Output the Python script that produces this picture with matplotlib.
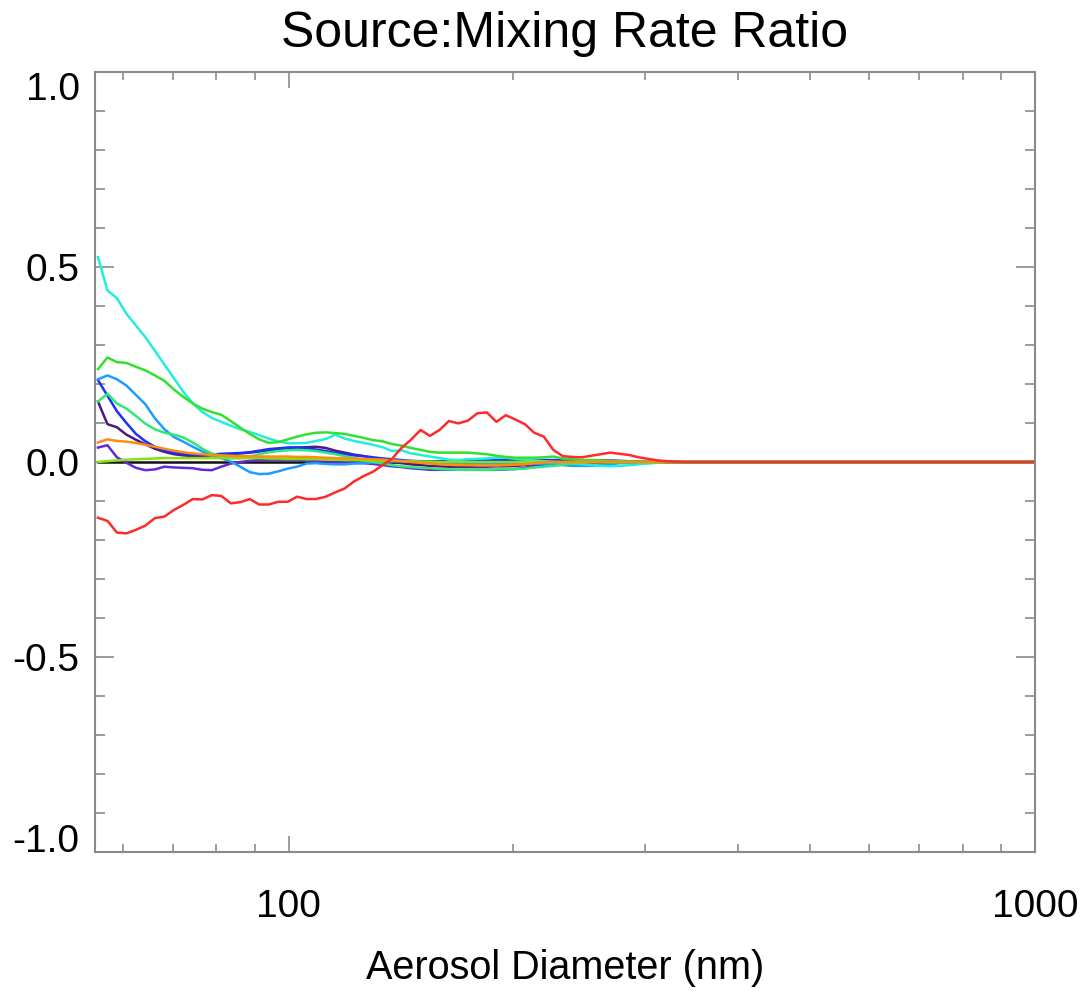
"""
Source: mixing rate ratio vs aerosol diameter
"""
import matplotlib
matplotlib.use("Agg")
import matplotlib.pyplot as plt
import matplotlib.ticker as ticker

plt.rcParams['font.family'] = ['Liberation Sans', 'DejaVu Sans']
plt.rcParams['axes.unicode_minus'] = False

# diameter bins (nm), last point closes the flat tail
diam = [55.50, 57.15, 58.85, 60.60, 62.40, 64.25, 66.16, 68.13, 70.15, 72.23,
        74.38, 76.59, 78.86, 81.21, 83.62, 86.10, 88.66, 91.29, 94.00, 96.80,
        99.67, 102.6, 105.7, 108.8, 112.1, 115.4, 118.8, 122.3, 126.0, 129.7,
        133.6, 137.5, 141.6, 145.8, 150.2, 154.6, 159.2, 163.9, 168.8, 173.8,
        179.0, 184.3, 189.8, 195.4, 201.2, 207.2, 213.3, 219.7, 226.2, 232.9,
        239.8, 247.0, 254.3, 261.9, 269.6, 277.6, 285.9, 294.4, 303.1, 312.1,
        321.4, 330.9, 340.8, 350.9, 1000.0]

black = [0.0, 0.0, 0.0, 0.0, 0.0, 0.0, 0.0, 0.0, 0.0, 0.0,
         0.0, 0.0, 0.0, 0.0, 0.0, 0.0, 0.0, 0.0, 0.0, 0.0,
         0.0, 0.0, 0.0, 0.0, 0.0, 0.0, 0.0, 0.0, 0.0, 0.0,
         0.0, 0.0, 0.0, 0.0, 0.0, 0.0, 0.0, 0.0, 0.0, 0.0,
         0.0, 0.0, 0.0, 0.0, 0.0, 0.0, 0.0, 0.0, 0.0, 0.0,
         0.0, 0.0, 0.0, 0.0, 0.0, 0.0, 0.0, 0.0, 0.0, 0.0,
         0.0, 0.0, 0.0, 0.0, 0.0]

indigo = [0.155, 0.097, 0.089, 0.07, 0.057, 0.045, 0.034, 0.026, 0.02, 0.017,
          0.015, 0.016, 0.017, 0.019, 0.02, 0.022, 0.024, 0.027, 0.03, 0.033,
          0.036, 0.037, 0.038, 0.039, 0.036, 0.029, 0.024, 0.019, 0.015, 0.01,
          0.004, 0.0, -0.003, -0.006, -0.008, -0.01, -0.011, -0.012, -0.012, -0.012,
          -0.012, -0.012, -0.011, -0.011, -0.01, -0.008, -0.005, -0.003, -0.001, 0.0,
          0.0, 0.0, 0.0, 0.0, 0.0, 0.0, 0.0, 0.0, 0.0, 0.0,
          0.0, 0.0, 0.0, 0.0, 0.0]

violet = [0.037, 0.043, 0.012, -0.002, -0.015, -0.021, -0.019, -0.012, -0.014, -0.015,
          -0.016, -0.02, -0.021, -0.012, -0.004, 0.0, 0.003, 0.005, 0.006, 0.006,
          0.006, 0.006, 0.005, 0.003, 0.002, 0.0, -0.001, -0.002, -0.003, -0.005,
          -0.008, -0.011, -0.013, -0.016, -0.018, -0.02, -0.02, -0.02, -0.02, -0.02,
          -0.02, -0.02, -0.02, -0.019, -0.018, -0.015, -0.01, -0.007, -0.004, -0.002,
          0.0, 0.0, 0.0, 0.0, 0.0, 0.0, 0.0, 0.0, 0.0, 0.0,
          0.0, 0.0, 0.0, 0.0, 0.0]

blue = [0.21, 0.17, 0.13, 0.1, 0.072, 0.053, 0.039, 0.029, 0.024, 0.021,
        0.019, 0.018, 0.019, 0.021, 0.022, 0.023, 0.025, 0.029, 0.033, 0.035,
        0.037, 0.037, 0.035, 0.032, 0.028, 0.023, 0.02, 0.017, 0.015, 0.012,
        0.009, 0.007, 0.005, 0.003, 0.002, 0.002, 0.002, 0.002, 0.002, 0.003,
        0.004, 0.005, 0.005, 0.005, 0.005, 0.005, 0.005, 0.005, 0.005, 0.005,
        0.004, 0.003, 0.003, 0.004, 0.004, 0.003, 0.002, 0.001, 0.0, 0.0,
        0.0, 0.0, 0.0, 0.0, 0.0]

skyblue = [0.212, 0.222, 0.212, 0.196, 0.172, 0.148, 0.112, 0.084, 0.064, 0.052,
           0.039, 0.027, 0.019, 0.01, 0.001, -0.012, -0.026, -0.031, -0.03, -0.024,
           -0.017, -0.012, -0.004, -0.003, -0.005, -0.006, -0.006, -0.004, -0.003, -0.001,
           0.001, 0.002, 0.003, 0.002, 0.0, -0.002, -0.003, -0.004, -0.004, -0.004,
           -0.004, -0.004, -0.004, -0.004, -0.004, -0.004, -0.004, -0.005, -0.006, -0.008,
           -0.01, -0.01, -0.01, -0.008, -0.006, -0.003, -0.001, 0.0, 0.0, 0.0,
           0.0, 0.0, 0.0, 0.0, 0.0]

cyan = [0.525, 0.44, 0.42, 0.38, 0.35, 0.32, 0.285, 0.25, 0.215, 0.18,
        0.15, 0.128, 0.113, 0.103, 0.093, 0.084, 0.077, 0.069, 0.06, 0.053,
        0.048, 0.048, 0.049, 0.054, 0.059, 0.07, 0.06, 0.054, 0.049, 0.044,
        0.038, 0.028, 0.03, 0.022, 0.018, 0.014, 0.01, 0.006, 0.005, 0.007,
        0.008, 0.009, 0.011, 0.011, 0.008, 0.006, 0.004, 0.002, 0.0, -0.002,
        -0.004, -0.006, -0.008, -0.01, -0.011, -0.01, -0.008, -0.006, -0.004, -0.002,
        0.0, 0.0, 0.0, 0.0, 0.0]

springgreen = [0.155, 0.175, 0.15, 0.137, 0.118, 0.098, 0.084, 0.075, 0.07, 0.063,
               0.05, 0.034, 0.022, 0.015, 0.01, 0.01, 0.014, 0.02, 0.025, 0.028,
               0.03, 0.031, 0.03, 0.028, 0.024, 0.02, 0.015, 0.01, 0.005, 0.0,
               -0.004, -0.008, -0.011, -0.013, -0.015, -0.016, -0.018, -0.019, -0.02, -0.02,
               -0.02, -0.02, -0.019, -0.018, -0.018, -0.017, -0.014, -0.012, -0.01, -0.007,
               -0.004, -0.002, 0.0, 0.0, 0.0, 0.0, 0.0, 0.0, 0.0, 0.0,
               0.0, 0.0, 0.0, 0.0, 0.0]

green = [0.238, 0.268, 0.256, 0.254, 0.244, 0.235, 0.222, 0.208, 0.186, 0.167,
         0.15, 0.137, 0.128, 0.121, 0.105, 0.088, 0.072, 0.058, 0.049, 0.051,
         0.058, 0.065, 0.071, 0.075, 0.076, 0.074, 0.072, 0.067, 0.062, 0.056,
         0.053, 0.046, 0.042, 0.036, 0.031, 0.026, 0.024, 0.024, 0.024, 0.024,
         0.022, 0.02, 0.016, 0.013, 0.011, 0.011, 0.011, 0.012, 0.014, 0.009,
         0.007, 0.005, 0.005, 0.004, 0.003, 0.002, 0.001, 0.0, 0.0, 0.0,
         0.0, 0.0, 0.0, 0.0, 0.0]

lime = [0.0, 0.002, 0.004, 0.006, 0.007, 0.008, 0.009, 0.01, 0.01, 0.01,
        0.01, 0.01, 0.01, 0.01, 0.01, 0.01, 0.01, 0.01, 0.009, 0.009,
        0.008, 0.008, 0.007, 0.007, 0.006, 0.006, 0.005, 0.005, 0.004, 0.004,
        0.003, 0.003, 0.002, 0.002, 0.001, 0.001, 0.0, 0.0, 0.0, 0.0,
        0.0, 0.0, 0.0, 0.0, 0.0, 0.0, 0.0, 0.0, 0.0, 0.0,
        0.0, 0.0, 0.0, 0.0, 0.0, 0.0, 0.0, 0.0, 0.0, 0.0,
        0.0, 0.0, 0.0, 0.0, 0.0]

orange = [0.05, 0.058, 0.054, 0.052, 0.049, 0.044, 0.039, 0.034, 0.029, 0.025,
          0.022, 0.02, 0.018, 0.017, 0.016, 0.015, 0.015, 0.014, 0.014, 0.014,
          0.014, 0.013, 0.013, 0.012, 0.011, 0.01, 0.009, 0.009, 0.008, 0.007,
          0.006, 0.004, 0.002, 0.0, -0.002, -0.004, -0.006, -0.007, -0.008, -0.008,
          -0.009, -0.009, -0.009, -0.008, -0.007, -0.006, -0.003, -0.001, 0.0, 0.0,
          0.0, 0.0, 0.0, 0.0, 0.0, 0.0, 0.0, 0.0, 0.0, 0.0,
          0.0, 0.0, 0.0, 0.0, 0.0]

red = [-0.143, -0.151, -0.181, -0.183, -0.174, -0.163, -0.144, -0.14, -0.123, -0.11,
       -0.095, -0.096, -0.085, -0.087, -0.106, -0.103, -0.095, -0.109, -0.109, -0.102,
       -0.102, -0.089, -0.095, -0.095, -0.089, -0.078, -0.068, -0.05, -0.036, -0.025,
       -0.008, 0.008, 0.036, 0.057, 0.082, 0.067, 0.082, 0.105, 0.099, 0.106,
       0.125, 0.127, 0.103, 0.12, 0.109, 0.097, 0.075, 0.065, 0.031, 0.015,
       0.013, 0.012, 0.016, 0.02, 0.024, 0.021, 0.018, 0.012, 0.008, 0.004,
       0.002, 0.001, 0.0, 0.0, 0.0]

series = [black, indigo, violet, blue, skyblue, cyan, springgreen, green, lime, orange, red]
colors = ['#111111', '#4b1a7d', '#6428d8', '#1a30ff', '#1e9cff', '#22eedd',
          '#2fe879', '#33e02f', '#88e010', '#ff8c10', '#ff2a2a']

yticks = [-1.0, -0.5, 0.0, 0.5, 1.0]
ytick_labels = ['-1.0', '-0.5', '0.0', '0.5', '1.0']
xticks = [100, 1000]
xtick_labels = ['100', '1000']

fig = plt.figure(figsize=(10.86, 9.93), dpi=100)
ax = fig.add_axes([0.0875, 0.142, 0.8655, 0.7855])

for ys, col in zip(series, colors):
    ax.plot(diam, ys, color=col, lw=1.8)

ax.set_xscale('log')
ax.set_xlim(55, 1000)
ax.set_ylim(-1.0, 1.0)

ax.xaxis.set_major_locator(ticker.FixedLocator(xticks))
ax.xaxis.set_major_formatter(ticker.FixedFormatter(xtick_labels))
ax.xaxis.set_minor_locator(ticker.FixedLocator([60, 70, 80, 90, 200, 300, 400, 500, 600, 700, 800, 900]))
ax.xaxis.set_minor_formatter(ticker.NullFormatter())
ax.yaxis.set_major_locator(ticker.FixedLocator(yticks))
ax.yaxis.set_major_formatter(ticker.FixedFormatter(ytick_labels))
ax.yaxis.set_minor_locator(ticker.MultipleLocator(0.1))

gray = '#8a8a8a'
for s in ax.spines.values():
    s.set_color(gray)
    s.set_linewidth(1.5)
ax.tick_params(which='both', direction='in', top=True, right=True, color=gray, width=1.2)
ax.tick_params(axis='y', which='major', length=14, pad=11, labelsize=28)
ax.tick_params(axis='y', which='minor', length=7)
ax.tick_params(axis='x', which='major', length=11.5, pad=27, labelsize=28)
ax.tick_params(axis='x', which='minor', length=6)

ylabs = ax.get_yticklabels()
ylabs[0].set_va('baseline')
ylabs[-1].set_va('top')

ax.set_xlabel('Aerosol Diameter (nm)', fontsize=28.5)
ax.xaxis.set_label_coords(0.5, -0.149)
ax.xaxis.label.set_va('center')
ax.set_title('Source:Mixing Rate Ratio', fontsize=36, pad=18)

fig.savefig('out.png', dpi=100)
